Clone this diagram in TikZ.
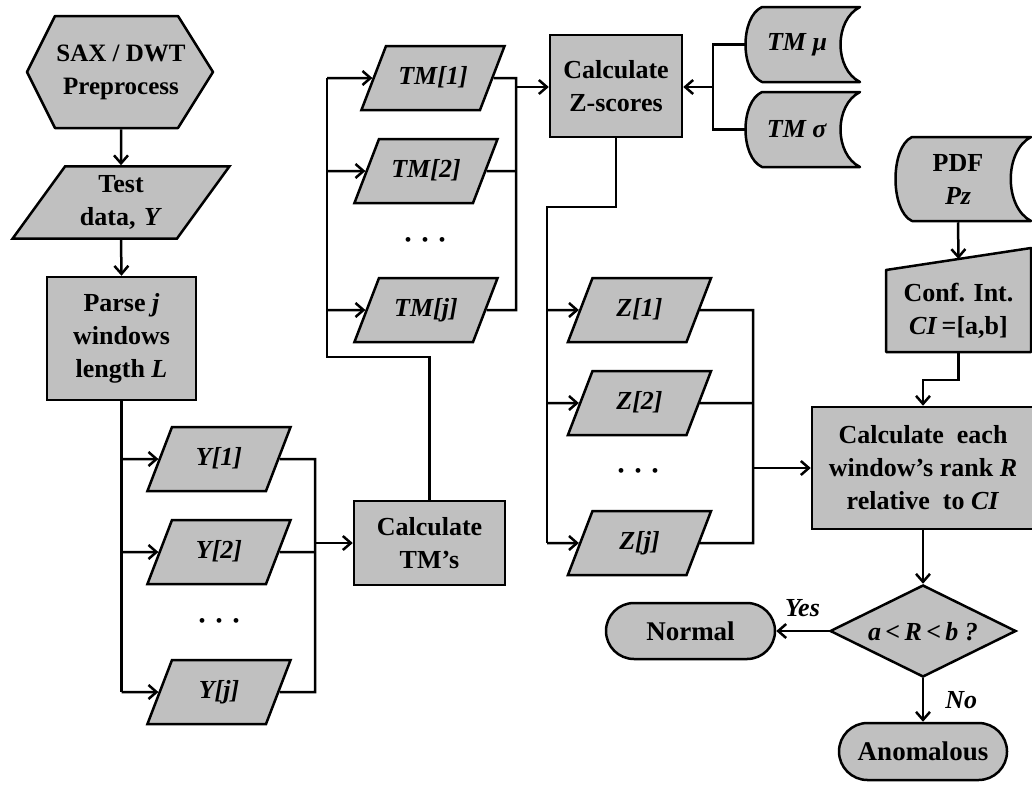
\documentclass[tikz,border=0pt]{standalone}
\usepackage{fontspec}
\setmainfont{Liberation Serif}
\usetikzlibrary{shapes.geometric,shapes.misc,arrows.meta}
\definecolor{boxgray}{HTML}{C0C0C0}

\begin{document}
\begin{tikzpicture}[x=1pt,y=-1pt,
  line width=2.5pt,
  txt/.style={font=\bfseries\fontsize{26}{33}\selectfont, align=center},
  shape base/.style={draw=black, fill=boxgray, line width=2.5pt, txt, inner sep=0pt},
  procbox/.style={shape base, rectangle},
  iobox/.style={shape base, trapezium, trapezium left angle=69, trapezium right angle=111,
    text width=94pt, text height=18pt, text depth=6pt, inner xsep=0pt, inner ysep=20pt},
  terminal/.style={shape base, rounded rectangle, minimum height=56pt, font=\bfseries\fontsize{27}{33}\selectfont},
  textonly/.style={txt, inner sep=0pt},
  flow/.style={draw=black, line width=2.5pt, -{Straight Barb[length=8pt,width=14pt]}},
  wire/.style={draw=black, line width=2.5pt},
  ellipsis/.style={font=\fontsize{20}{20}\selectfont, inner sep=0pt},
  tag/.style={font=\bfseries\itshape\fontsize{26}{30}\selectfont, inner sep=0pt},
  storefill/.style={draw=black, fill=boxgray, line width=2.5pt, line join=round}
]
\useasboundingbox (0,0) rectangle (1032,795);

% ---------- left column ----------
\filldraw[storefill] (27,72) -- (55,16) -- (178,16) -- (213,72) -- (178,128) -- (55,128) -- cycle;
\node[textonly, font=\bfseries\fontsize{25}{33}\selectfont, minimum width=186pt, minimum height=112pt] (sax) at (121,72) {SAX / DWT\\Preprocess};

\node[shape base, trapezium, trapezium left angle=54, trapezium right angle=126,
  text width=112pt, inner xsep=0pt, inner ysep=9pt] (test) at (121,202.5)
  {Test\\data, \textit{Y}};

\node[procbox, minimum width=149pt, minimum height=123pt] (parse) at (121.5,338.5)
  {Parse \textit{j}\\windows\\length \textit{L}};

\node[iobox] (Y1) at (219,459) {\textit{Y[1]}};
\node[iobox] (Y2) at (219,552) {\textit{Y[2]}};
\node[ellipsis] (ydots) at (219,623) {•\hspace{10pt}•\hspace{10pt}•};
\node[iobox] (Yj) at (219,692) {\textit{Y[j]}};

\node[procbox, minimum width=151pt, minimum height=84pt] (tms) at (429.5,543) {Calculate\\TM’s};

% ---------- TM column ----------
\node[iobox] (TM1) at (433,78) {\textit{TM[1]}};
\node[iobox] (TM2) at (426,171) {\textit{TM[2]}};
\node[ellipsis] (tmdots) at (425,242) {•\hspace{10pt}•\hspace{10pt}•};
\node[iobox] (TMj) at (426,310) {\textit{TM[j]}};

\node[procbox, minimum width=132pt, minimum height=102pt] (zs) at (616,86) {Calculate\\Z-scores};

% stored statistics
\filldraw[storefill] (762,7) -- (860,7) .. controls (834,20) and (834,69) .. (860,82)
  -- (762,82) .. controls (740,72) and (740,17) .. (762,7) -- cycle;
\node[textonly, minimum width=100pt, minimum height=75pt] (tmmu) at (797,44.5) {\textit{TM μ}};
\filldraw[storefill] (762,92) -- (860,92) .. controls (834,105) and (834,154) .. (860,167)
  -- (762,167) .. controls (740,157) and (740,102) .. (762,92) -- cycle;
\node[textonly, minimum width=100pt, minimum height=75pt] (tmsig) at (797,129.5) {\textit{TM σ}};

% ---------- Z column ----------
\node[iobox] (Z1) at (639.5,310) {\textit{Z[1]}};
\node[iobox] (Z2) at (639.5,403) {\textit{Z[2]}};
\node[ellipsis] (zdots) at (638,473) {•\hspace{10pt}•\hspace{10pt}•};
\node[iobox] (Zj) at (639.5,543) {\textit{Z[j]}};

% ---------- right column ----------
\filldraw[storefill] (912,137) -- (1031,137) .. controls (1004,151) and (1004,207) .. (1031,221)
  -- (912,221) .. controls (890,211) and (890,147) .. (912,137) -- cycle;
\node[textonly, minimum width=120pt, minimum height=84pt] (pdf) at (958,179) {PDF\\\textit{Pz}};

\filldraw[storefill] (886,270) -- (1031,248) -- (1031,352) -- (886,352) -- cycle;
\node[textonly, minimum width=145pt, minimum height=82pt] (ci) at (958.5,311)
  {Conf. Int.\\\textit{CI}\,=[a,b]};
\coordinate (citop) at (958.5,259);

\node[procbox, minimum width=222pt, minimum height=122pt] (rank) at (923,468)
  {Calculate\ \ each\\window’s\ rank\ \textit{R}\\relative\ \ to\ \textit{CI}};

\node[shape base, diamond, minimum width=186pt, minimum height=92pt,
  label={[txt, text depth=0pt]center:\textit{a\,<\,R\,<\,b\ ?}}] (dec) at (923,631) {};

\node[terminal, minimum width=169pt] (normal) at (690.5,631) {Normal};
\node[terminal, minimum width=168pt, minimum height=57pt] (anom) at (923,751.5) {Anomalous};

% ---------- connectors ----------
\draw[flow] (sax.south) -- (test.north);
\draw[flow] (test.south) -- (parse.north);

\draw[wire] (parse.south) -- (parse.south |- Yj);
\foreach \n in {Y1,Y2,Yj} \draw[flow] (parse.south |- \n) -- (\n);

\coordinate (ybus) at (315,543);
\draw[wire] (Y1) -- (Y1 -| ybus) -- (Yj -| ybus) -- (Yj);
\draw[wire] (Y2) -- (Y2 -| ybus);
\draw[flow] (ybus) -- (tms);

\coordinate (tmturn) at (327,357);
\draw[wire] (tms.north) |- (tmturn) -- (tmturn |- TM1);
\foreach \n in {TM1,TM2,TMj} \draw[flow] (tmturn |- \n) -- (\n);

\coordinate (tmbus) at (516,87);
\draw[wire] (TM1) -- (TM1 -| tmbus) -- (TMj -| tmbus) -- (TMj);
\draw[wire] (TM2) -- (TM2 -| tmbus);
\draw[flow] (tmbus) -- (tmbus -| zs.west);

\coordinate (stbus) at (713,87);
\draw[wire] (tmmu.west) -| (stbus) |- (tmsig.west);
\draw[flow] (stbus) -- (stbus -| zs.east);

\coordinate (zturn) at (547,207);
\draw[wire] (zs.south) |- (zturn) -- (zturn |- Zj);
\foreach \n in {Z1,Z2,Zj} \draw[flow] (zturn |- \n) -- (\n);

\coordinate (zbus) at (753,468);
\draw[wire] (Z1) -- (Z1 -| zbus) -- (Zj -| zbus) -- (Zj);
\draw[wire] (Z2) -- (Z2 -| zbus);
\draw[flow] (zbus) -- (rank);

\draw[flow] (pdf.south) -- (citop);
\coordinate (cijog) at (923,380);
\draw[flow] (ci.south) |- (cijog) -- (rank.north);

\draw[flow] (rank.south) -- (dec.north);
\draw[flow] (dec.west) -- (normal.east) node[tag, midway, above=13pt] {Yes};
\draw[flow] (dec.south) -- (anom.north) node[tag, midway, right=21pt] {No};
\end{tikzpicture}
\end{document}
